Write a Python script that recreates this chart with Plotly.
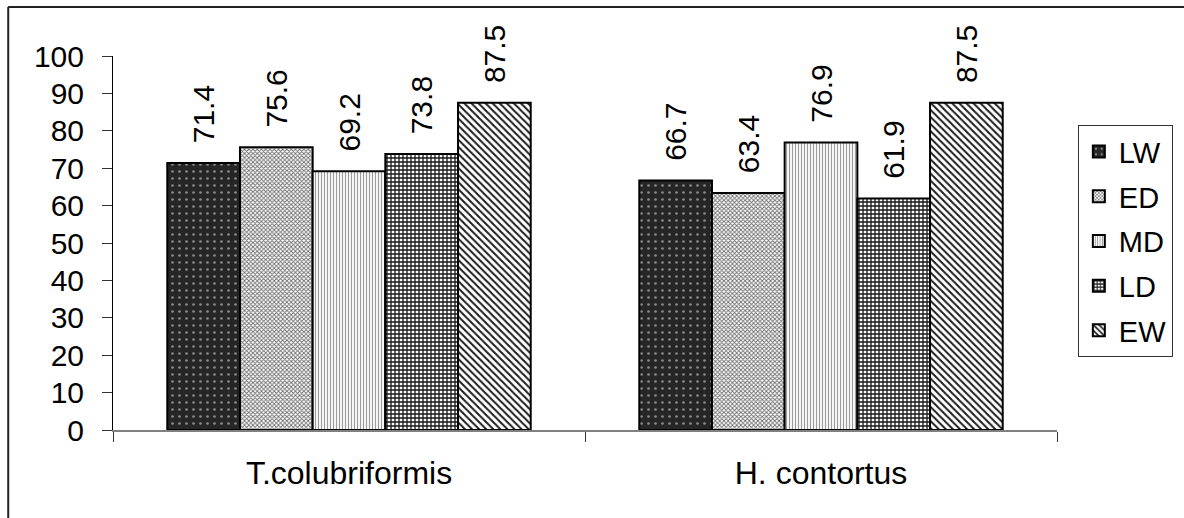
import plotly.graph_objects as go

categories = ["T.colubriformis", "H. contortus"]
series_names = ["LW", "ED", "MD", "LD", "EW"]
values_LW = [71.4, 66.7]
values_ED = [75.6, 63.4]
values_MD = [69.2, 76.9]
values_LD = [73.8, 61.9]
values_EW = [87.5, 87.5]
y_ticks = [0, 10, 20, 30, 40, 50, 60, 70, 80, 90, 100]

series_values = [values_LW, values_ED, values_MD, values_LD, values_EW]

patterns = [
    dict(shape=".", bgcolor="#262626", fgcolor="#8a8a8a", size=7, solidity=0.12, fillmode="replace"),
    dict(shape="x", bgcolor="#ffffff", fgcolor="#6e6e6e", size=3, solidity=0.5, fillmode="replace"),
    dict(shape="|", bgcolor="#ffffff", fgcolor="#9a9a9a", size=3, solidity=0.4, fillmode="replace"),
    dict(shape="+", bgcolor="#ffffff", fgcolor="#1a1a1a", size=4, solidity=0.55, fillmode="replace"),
    dict(shape="\\", bgcolor="#ffffff", fgcolor="#1a1a1a", size=5, solidity=0.4, fillmode="replace"),
]

FONT = "Liberation Sans, Arial, sans-serif"
SPACER = "\u00a0\u00a0"

fig = go.Figure()
for name, vals, pat in zip(series_names, series_values, patterns):
    fig.add_trace(go.Bar(
        name=name,
        legendgroup=name,
        x=categories,
        y=vals,
        text=[SPACER + f"{v:.1f}" for v in vals],
        textposition="outside",
        textangle=-90,
        constraintext="none",
        cliponaxis=False,
        textfont=dict(family=FONT, size=30, color="black"),
        marker=dict(color=pat["bgcolor"], pattern=pat, line=dict(color="black", width=2)),
    ))

fig.update_layout(
    width=1184, height=518,
    margin=dict(l=113, r=126, t=56, b=88),
    paper_bgcolor="white", plot_bgcolor="white",
    barmode="group", bargap=0.23, bargroupgap=0,
    font=dict(family=FONT, size=28, color="black"),
    showlegend=True,
    legend=dict(
        x=1.021, y=0.815, xanchor="left", yanchor="top",
        bordercolor="#333", borderwidth=1,
        font=dict(family=FONT, size=29, color="black"),
        tracegroupgap=4,
    ),
    shapes=[
        dict(type="line", xref="paper", yref="paper", x0=-0.111, x1=1.2, y0=1.131, y1=1.131,
             line=dict(color="#222", width=2)),
        dict(type="line", xref="paper", yref="paper", x0=-0.111, x1=-0.111, y0=1.131, y1=-0.3,
             line=dict(color="#222", width=2)),
    ],
)

fig.update_xaxes(
    showline=True, linecolor="#808080", linewidth=2,
    ticks="outside", tickson="boundaries", ticklen=10, tickcolor="#333", tickwidth=1,
    tickfont=dict(family=FONT, size=32, color="black"),
    ticklabelstandoff=14,
    showgrid=False, zeroline=False,
)
fig.update_yaxes(
    range=[0, 100], tickvals=y_ticks,
    showline=True, linecolor="black", linewidth=1,
    ticks="outside", ticklen=10, tickcolor="#333", tickwidth=1,
    tickfont=dict(family=FONT, size=30, color="black"),
    ticklabelstandoff=12,
    showgrid=False, zeroline=False,
)

fig.write_html("out.html")
